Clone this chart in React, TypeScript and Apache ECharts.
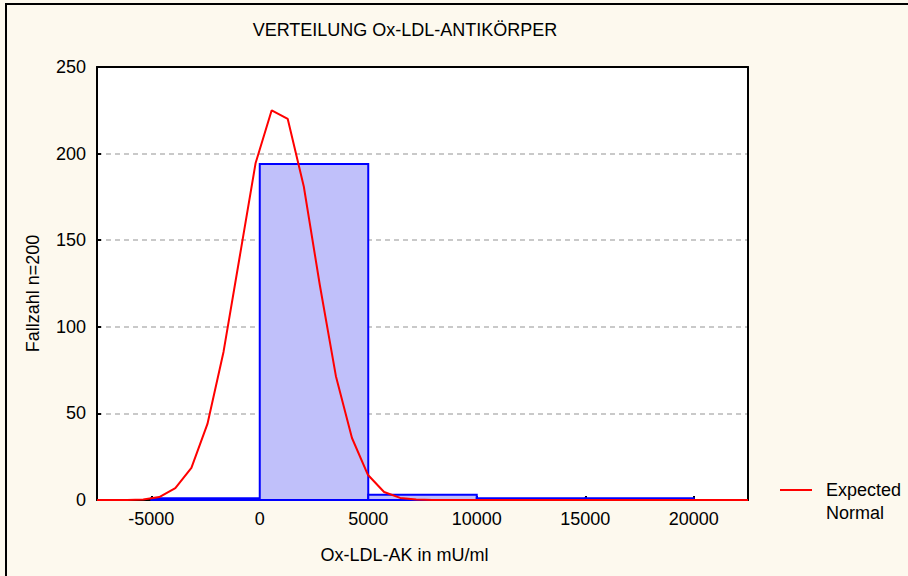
import React, { useEffect, useRef } from "react";
import * as echarts from "echarts";

const chartTitle = "VERTEILUNG Ox-LDL-ANTIKÖRPER";
const xAxisName = "Ox-LDL-AK in mU/ml";
const yAxisName = "Fallzahl n=200";
const legendLabel = "Expected\nNormal";

const binStarts = [-5000, 0, 5000, 10000, 15000];
const binEnds = [0, 5000, 10000, 15000, 20000];
const binCounts = [1, 194, 3, 1, 1];

const normalX = [-7500, -6110, -5370, -4630, -3890, -3150, -2410, -1670, -930, -190, 550, 1290, 2030, 2770, 3510, 4250, 4990, 5730, 6470, 7210, 7950, 22500];
const normalY = [0, 0, 0.3, 1.7, 6.9, 18.5, 43.9, 85.5, 140, 194.6, 225, 220, 181, 124, 71.5, 35.8, 14.4, 4.6, 1.2, 0.3, 0, 0];

const xTicks = [-5000, 0, 5000, 10000, 15000, 20000];

const FONT = "'Liberation Sans', Arial, sans-serif";

export default function App() {
  const ref = useRef<HTMLDivElement>(null);

  useEffect(() => {
    if (!ref.current) return;
    const chart = echarts.init(ref.current, undefined, { renderer: "svg" });

    const binData = binStarts.map((s, i) => [s, binEnds[i], binCounts[i]]);
    const curveData = normalX.map((x, i) => [x, normalY[i]]);

    const frameAxis = {
      axisLine: { show: true, onZero: false, lineStyle: { color: "#000", width: 2 } },
      axisTick: { show: false },
      axisLabel: { show: false },
      splitLine: { show: false },
    };

    const option: any = {
      animation: false,
      backgroundColor: "#fdf9ee",
      textStyle: { fontFamily: FONT },
      title: {
        text: chartTitle,
        left: 405,
        top: 21,
        textAlign: "center",
        padding: 0,
        textStyle: { fontFamily: FONT, fontSize: 18, fontWeight: "normal", color: "#000" },
      },
      grid: {
        left: 97,
        top: 67,
        right: 160,
        bottom: 76,
        show: true,
        backgroundColor: "#ffffff",
        borderColor: "#000",
        borderWidth: 0,
      },
      xAxis: [
        {
          type: "value",
          min: -7500,
          max: 22500,
          name: xAxisName,
          nameLocation: "middle",
          nameGap: 46,
          nameTextStyle: { fontFamily: FONT, fontSize: 18, color: "#000", padding: [0, 36, 0, 0] },
          axisLine: { show: true, onZero: false, lineStyle: { color: "#000", width: 2 } },
          axisTick: { show: true, inside: true, length: 4, customValues: xTicks, lineStyle: { color: "#000", width: 2 } },
          axisLabel: {
            customValues: xTicks,
            formatter: (v: number) => String(v),
            fontFamily: FONT,
            fontSize: 18,
            color: "#000",
            margin: 10,
          },
          splitLine: { show: false },
        },
        { type: "value", position: "top", min: -7500, max: 22500, ...frameAxis },
      ],
      yAxis: [
        {
          type: "value",
          min: 0,
          max: 250,
          interval: 50,
          name: yAxisName,
          nameLocation: "middle",
          nameGap: 55,
          nameRotate: 90,
          nameTextStyle: { fontFamily: FONT, fontSize: 18, color: "#000", padding: [0, 20, 0, 0] },
          axisLine: { show: true, onZero: false, lineStyle: { color: "#000", width: 2 } },
          axisTick: { show: true, inside: true, length: 4, lineStyle: { color: "#000", width: 2 } },
          axisLabel: { formatter: (v: number) => String(v), fontFamily: FONT, fontSize: 18, color: "#000", margin: 11 },
          splitLine: { show: true, lineStyle: { color: "#b8b8b8", type: [5, 4], width: 1.5 } },
        },
        { type: "value", position: "right", min: 0, max: 250, ...frameAxis },
      ],
      graphic: [
        {
          type: "rect",
          shape: { x: 6, y: 4, width: 1000, height: 700 },
          style: { fill: "none", stroke: "#000", lineWidth: 2 },
          silent: true,
          z: 100,
        },
        {
          type: "line",
          shape: { x1: 780, y1: 490, x2: 812, y2: 490 },
          style: { stroke: "#ff0000", lineWidth: 2 },
        },
        {
          type: "text",
          x: 826,
          y: 478,
          style: {
            text: legendLabel,
            fontFamily: FONT,
            fontSize: 18,
            lineHeight: 23,
            fill: "#000",
            verticalAlign: "top",
            align: "left",
          },
        },
      ],
      series: [
        {
          type: "custom",
          name: "Histogram",
          z: 2,
          xAxisIndex: 0,
          yAxisIndex: 0,
          encode: { x: [0, 1], y: 2 },
          data: binData,
          renderItem: (params: any, api: any) => {
            const p0 = api.coord([api.value(0), api.value(2)]);
            const p1 = api.coord([api.value(1), 0]);
            return {
              type: "rect",
              shape: { x: p0[0], y: p0[1], width: p1[0] - p0[0], height: p1[1] - p0[1] },
              style: { fill: "#c0c0fa", stroke: "#0000ff", lineWidth: 2 },
            };
          },
        },
        {
          type: "line",
          name: "Expected Normal",
          z: 5,
          xAxisIndex: 0,
          yAxisIndex: 0,
          data: curveData,
          showSymbol: false,
          symbol: "none",
          smooth: false,
          lineStyle: { color: "#ff0000", width: 2 },
        },
      ],
    };

    chart.setOption(option);
    return () => chart.dispose();
  }, []);

  return (
    <div
      ref={ref}
      style={{ position: "fixed", left: 0, top: 0, width: 908, height: 576 }}
    />
  );
}
